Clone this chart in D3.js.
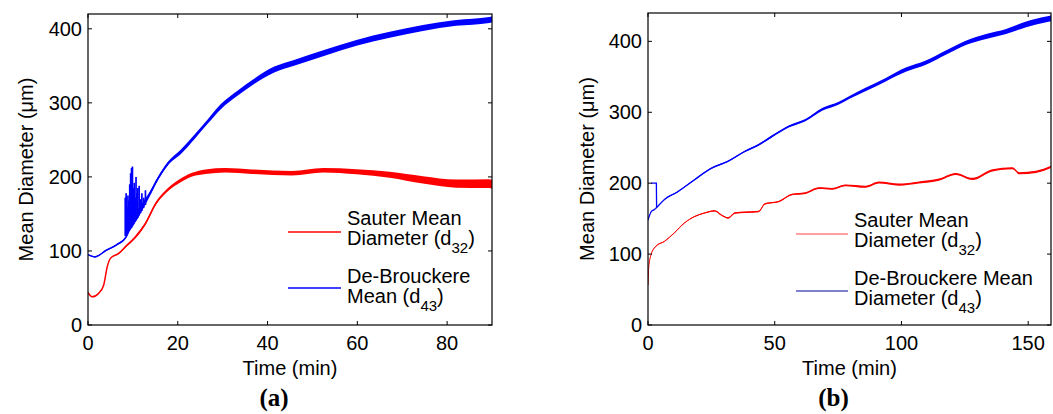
<!DOCTYPE html>
<html>
<head>
<meta charset="utf-8">
<script src="https://cdn.jsdelivr.net/npm/d3@7"></script>
<style>
  body { margin: 0; background: #fff; }
  text { font-family: "Liberation Sans", Arial, sans-serif; fill: #000; }
</style>
</head>
<body>
<div id="chart"></div>
<script>
// ---- data ----
// panel (a)
var aSauterTime = [0, 0.9, 2.4, 3.5, 4.3, 5.0, 6.9, 8.4, 10.6, 12.8, 15.1, 17.3, 20.3, 23.2, 26.2, 30.6, 36.5, 45.4, 52.4, 59.8, 67.2, 74.6, 82, 89.4, 90];
var aSauter     = [44, 38, 43, 54, 79, 90, 97, 106, 119, 137, 164, 180, 194, 203, 207, 209, 207, 205, 209, 207, 203, 196, 191, 191, 190];
var aSauterNoise = [0.5, 0.5, 0.5, 0.5, 0.5, 0.5, 1, 1.5, 2, 2, 2, 2, 2.5, 2.5, 3, 3, 3, 3, 3, 3.5, 4, 5, 5.5, 6, 6];

var aBrouckTime = [0, 1.5, 4.1, 6.3, 8.5, 9.5, 11.2, 13.4, 15.6, 17.8, 20.7, 23.7, 26.7, 29.6, 33.3, 37.0, 41.5, 45.9, 52.4, 59.8, 67.2, 74.6, 82, 89.4, 90];
var aBrouck     = [95, 92, 101, 108, 119, 136, 151, 173, 198, 218, 234, 254, 275, 295, 313, 329, 345, 354, 367, 381, 392, 401, 408, 412, 413];
var aBrouckNoise = [0.5, 0.5, 1, 1, 1.5, 7, 6, 3.5, 2.5, 2.5, 3, 3, 3, 3.5, 3.5, 3.5, 4, 4, 4, 4, 4, 4, 4, 4, 4];

// spikes in the De-Brouckere trace of (a)
var aSpikeTime = [8.3, 8.5, 8.7, 8.9, 9.1, 9.3, 9.5, 9.7, 9.9, 10.1, 10.3, 10.5, 10.7, 10.9, 11.1, 11.4, 11.7, 12.0, 12.4, 12.8];
var aSpikeTop  = [172, 178, 160, 175, 168, 190, 205, 212, 214, 185, 192, 172, 200, 178, 185, 188, 170, 178, 172, 182];
var aSpikeLow  = [120, 122, 124, 125, 127, 128, 130, 131, 133, 135, 137, 139, 141, 143, 145, 148, 151, 154, 158, 162];

// panel (b)
var bSauterTime = [0, 0.3, 1.2, 3.1, 6.5, 10.4, 14.4, 18.4, 22.3, 26.3, 29, 31.6, 34.3, 38.3, 43.6, 46.2, 51.5, 56.8, 62.1, 67.4, 72.6, 77.9, 85.8, 91.1, 99, 106.9, 114.8, 121.4, 128, 135.9, 143.8, 146.5, 153.1, 159.7];
var bSauter     = [56, 82, 99, 111, 118, 130, 144, 153, 158, 161, 155, 151, 158, 159, 160, 171, 174, 184, 186, 193, 192, 197, 195, 201, 198, 201, 205, 213, 206, 218, 221, 214, 216, 224];
var bSauterNoise = [0.3, 0.3, 0.5, 0.5, 0.5, 0.5, 0.5, 0.8, 0.8, 0.8, 1, 1, 1, 1, 1, 1, 1, 1, 1.2, 1.2, 1.2, 1.2, 1.5, 1.5, 1.5, 1.5, 1.5, 1.5, 1.5, 1.5, 1.5, 1.5, 1.5, 1.5];

var bBrouckTime = [0, 1.3, 2.6, 3.2, 6.5, 11.8, 18.4, 25, 31.6, 38.3, 43.6, 48.9, 55.5, 62.1, 68.7, 75.3, 79.5, 85.8, 93.8, 101.7, 109.6, 117.5, 125.4, 133.4, 141.3, 149.2, 157.1, 159.7];
var bBrouck     = [148, 160, 163, 165, 177, 188, 205, 221, 231, 245, 254, 266, 280, 289, 304, 313, 321, 332, 346, 360, 370, 384, 398, 407, 414, 424, 431, 433];
var bBrouckNoise = [0.5, 0.5, 0.5, 0.5, 0.8, 0.8, 1, 1, 1, 1.2, 1.2, 1.5, 1.5, 1.5, 2, 2, 2, 2.5, 2.5, 3, 3, 3, 3, 3.5, 3.5, 4, 4, 4];

// short excursion to 200 at the start of (b)
var bSpikeTime = [1.2, 3.3, 3.4];
var bSpike     = [200, 200, 165];

var aXTicks = [0, 20, 40, 60, 80];
var bXTicks = [0, 50, 100, 150];
var yTicks = [0, 100, 200, 300, 400];

var width = 1053, height = 414;

var svg = d3.select("#chart")
  .append("svg")
    .attr("width", width)
    .attr("height", height);

function zip(t, v, n) {
  return t.map(function (d, i) { return { t: d, v: v[i], n: n ? n[i] : 0 }; });
}

function drawPanel(p) {
  var x = d3.scaleLinear().domain([0, p.xMax]).range([p.left, p.right]);
  var y = d3.scaleLinear().domain([0, p.yMax]).range([p.bottom, p.top]);

  var clipId = "clip" + p.id;
  svg.append("clipPath").attr("id", clipId)
    .append("rect")
      .attr("x", p.left).attr("y", p.top)
      .attr("width", p.right - p.left).attr("height", p.bottom - p.top);

  var plot = svg.append("g").attr("clip-path", "url(#" + clipId + ")");

  var area = d3.area()
    .curve(d3.curveMonotoneX)
    .x(d => x(d.t))
    .y0(d => y(d.v - d.n))
    .y1(d => y(d.v + d.n));
  var line = d3.line()
    .curve(d3.curveMonotoneX)
    .x(d => x(d.t))
    .y(d => y(d.v));

  p.series.forEach(function (s) {
    var data = zip(s.time, s.values, s.noise);
    plot.append("path")
      .datum(data)
      .attr("d", area)
      .style("fill", s.color);
    plot.append("path")
      .datum(data)
      .attr("d", line)
      .style("fill", "none")
      .style("stroke", s.color)
      .style("stroke-width", s.width);
  });

  if (p.spikes) {
    plot.selectAll(".spike" + p.id)
      .data(p.spikes.time)
      .enter()
      .append("line")
      .attr("x1", d => x(d)).attr("x2", d => x(d))
      .attr("y1", (d, i) => y(p.spikes.low[i]))
      .attr("y2", (d, i) => y(p.spikes.top[i]))
      .style("stroke", p.spikes.color)
      .style("stroke-width", 1.7);
  }
  if (p.excursion) {
    plot.append("path")
      .datum(zip(p.excursion.time, p.excursion.values))
      .attr("d", d3.line().x(d => x(d.t)).y(d => y(d.v)))
      .style("fill", "none")
      .style("stroke", p.excursion.color)
      .style("stroke-width", 1.3);
  }

  // box with inward ticks (all four sides)
  var axes = svg.append("g");
  axes.append("rect")
    .attr("x", p.left).attr("y", p.top)
    .attr("width", p.right - p.left).attr("height", p.bottom - p.top)
    .style("fill", "none").style("stroke", "#000").style("stroke-width", 1.2);

  var tl = 4;
  p.xTicks.forEach(function (t) {
    axes.append("line").attr("x1", x(t)).attr("x2", x(t)).attr("y1", p.bottom).attr("y2", p.bottom - tl).style("stroke", "#000");
    axes.append("line").attr("x1", x(t)).attr("x2", x(t)).attr("y1", p.top).attr("y2", p.top + tl).style("stroke", "#000");
    axes.append("text")
      .attr("x", x(t)).attr("y", 350)
      .attr("text-anchor", "middle")
      .style("font-size", "20px")
      .text(t);
  });
  yTicks.forEach(function (t) {
    axes.append("line").attr("x1", p.left).attr("x2", p.left + tl).attr("y1", y(t)).attr("y2", y(t)).style("stroke", "#000");
    axes.append("line").attr("x1", p.right).attr("x2", p.right - tl).attr("y1", y(t)).attr("y2", y(t)).style("stroke", "#000");
    axes.append("text")
      .attr("x", p.left - 6).attr("y", y(t) + 7)
      .attr("text-anchor", "end")
      .style("font-size", "20px")
      .text(t);
  });

  // axis titles
  axes.append("text")
    .attr("x", (p.left + p.right) / 2).attr("y", 375)
    .attr("text-anchor", "middle")
    .style("font-size", "20px")
    .text("Time (min)");
  axes.append("text")
    .attr("transform", "translate(" + p.ylabX + "," + ((p.top + p.bottom) / 2) + ") rotate(-90)")
    .attr("text-anchor", "middle")
    .attr("dy", "0.35em")
    .style("font-size", "20px")
    .text("Mean Diameter (\u03bcm)");
  axes.append("text")
    .attr("x", (p.left + p.right) / 2 - 16).attr("y", 406)
    .attr("text-anchor", "middle")
    .style("font-family", "'Liberation Serif', 'Times New Roman', serif")
    .style("font-weight", "bold")
    .style("font-size", "25px")
    .text(p.label);

  // legend
  var lg = svg.append("g");
  p.legend.forEach(function (item) {
    lg.append("line")
      .attr("x1", p.legX1).attr("x2", p.legX2)
      .attr("y1", item.lineY).attr("y2", item.lineY)
      .style("stroke", item.color)
      .style("stroke-width", item.width);
    item.lines.forEach(function (ln, i) {
      var t = lg.append("text")
        .attr("x", p.legTextX)
        .attr("y", item.baseY + i * 20)
        .style("font-size", "20px");
      t.append("tspan").text(ln.text);
      if (ln.sub) {
        t.append("tspan").attr("dy", 8).style("font-size", "15px").text(ln.sub);
        t.append("tspan").attr("dy", -8).text(")");
      }
    });
  });
}

drawPanel({
  id: "a", left: 88, right: 492, top: 14, bottom: 325, xMax: 90, yMax: 420,
  xTicks: aXTicks, ylabX: 26, label: "(a)",
  series: [
    { time: aSauterTime, values: aSauter, noise: aSauterNoise, color: "#ff0000", width: 1.5 },
    { time: aBrouckTime, values: aBrouck, noise: aBrouckNoise, color: "#0000ff", width: 1.5 }
  ],
  spikes: { time: aSpikeTime, top: aSpikeTop, low: aSpikeLow, color: "#0000ff" },
  legX1: 288, legX2: 341, legTextX: 347,
  legend: [
    { color: "#ff0000", width: 1.5, lineY: 232, baseY: 225,
      lines: [{ text: "Sauter Mean" }, { text: "Diameter (d", sub: "32" }] },
    { color: "#0000ff", width: 1.5, lineY: 288, baseY: 283,
      lines: [{ text: "De-Brouckere" }, { text: "Mean (d", sub: "43" }] }
  ]
});

drawPanel({
  id: "b", left: 648, right: 1051, top: 13, bottom: 325, xMax: 159, yMax: 440,
  xTicks: bXTicks, ylabX: 587, label: "(b)",
  series: [
    { time: bSauterTime, values: bSauter, noise: bSauterNoise, color: "#ff0000", width: 1 },
    { time: bBrouckTime, values: bBrouck, noise: bBrouckNoise, color: "#0000ff", width: 1.2 }
  ],
  excursion: { time: bSpikeTime, values: bSpike, color: "#0000ff" },
  legX1: 796, legX2: 848, legTextX: 854,
  legend: [
    { color: "#ff4040", width: 1, lineY: 234, baseY: 227,
      lines: [{ text: "Sauter Mean" }, { text: "Diameter (d", sub: "32" }] },
    { color: "#0000a0", width: 1, lineY: 291, baseY: 285,
      lines: [{ text: "De-Brouckere Mean" }, { text: "Diameter (d", sub: "43" }] }
  ]
});
</script>
</body>
</html>
